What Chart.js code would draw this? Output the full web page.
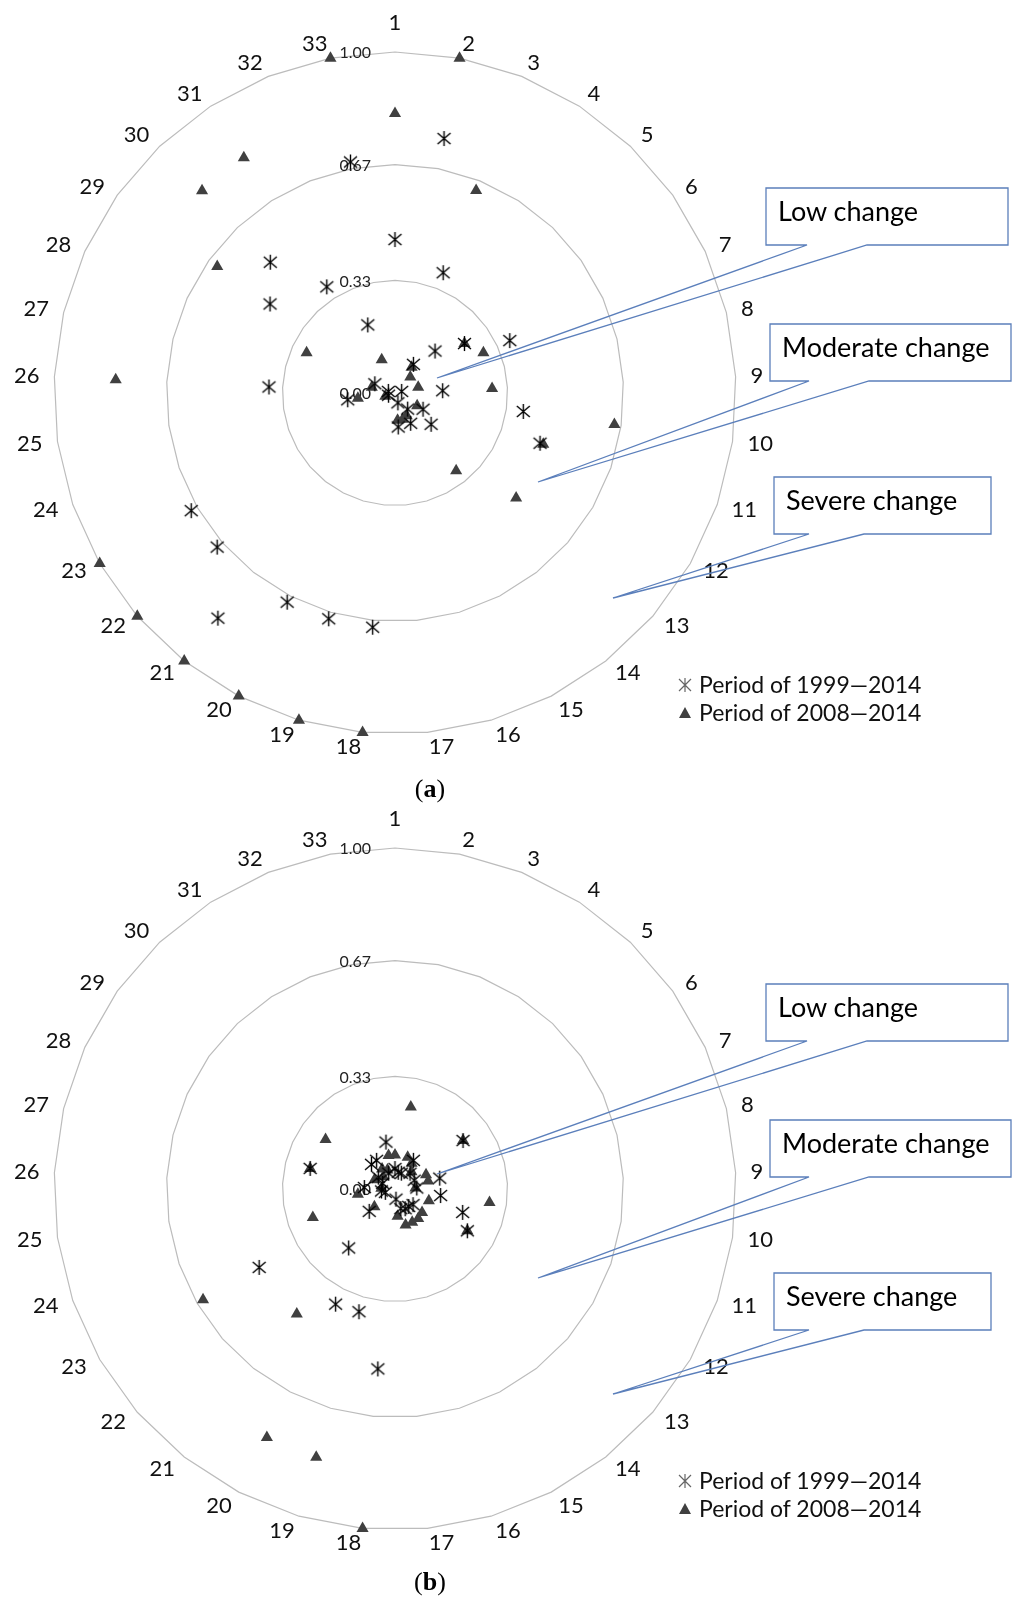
<!DOCTYPE html>
<html>
<head>
<meta charset="utf-8">
<title>Change degree radar</title>
<script src="https://cdn.jsdelivr.net/npm/chart.js@4.4.1/dist/chart.umd.min.js"></script>
<style>
  html, body { margin: 0; background: #fff; }
  #page { position: relative; width: 1024px; height: 1609px; overflow: hidden; }
  #page canvas { position: absolute; }
  #overlay { position: absolute; left: 0; top: 0; }
  .cap { position: absolute; width: 80px; line-height: 30px; text-align: center;
         font-family: "Liberation Serif", serif; font-size: 26px; color: #000; }
</style>
</head>
<body>
<div id="page">
  <canvas id="chartA" width="760" height="760" style="left:15px;top:13px"></canvas>
  <canvas id="chartB" width="760" height="760" style="left:15px;top:809px"></canvas>
  <svg id="overlay" width="1024" height="1609"></svg>
  <div class="cap" style="left:390px;top:774px">(<b>a</b>)</div>
  <div class="cap" style="left:390px;top:1567px">(<b>b</b>)</div>
</div>
<script>
// spoke labels (33 units) and ring values
const units = ["1", "2", "3", "4", "5", "6", "7", "8", "9", "10", "11", "12", "13", "14", "15", "16", "17",
  "18", "19", "20", "21", "22", "23", "24", "25", "26", "27", "28", "29", "30", "31", "32", "33"];
const ringTicks = [0, 0.33, 0.67, 1.0];
const seriesNames = ["Period of 1999\u20142014", "Period of 2008\u20142014"];
const calloutNames = ["Low change", "Moderate change", "Severe change"];

// (a)
const longA = [0.45, 0.76, 0.38, 0.10, 0.17, 0.25, 0.37, 0.02, 0.14, 0.38, 0.45, 0.095, 0.14, 0.06, 0.10, 0.03, 0.10,
  0.69, 0.69, 0.69, 0.84, 0.69, 0.69, 0.02, 0.14, 0.37, 0.02, 0.065, 0.45, 0.53, 0.37, 0.215, 0.69];
const shortA = [0.82, 1.0, 0.64, 0.09, 0.065, 0.25, 0.285, 0.07, 0.285, 0.65, 0.46, 0.075, 0.47, 0.29, 0.075, 0.08, 0.08,
  1.0, 1.0, 1.0, 1.0, 1.0, 1.0, 0.03, 0.11, 0.82, 0.07, 0.285, 0.64, 0.82, 0.82, 0.105, 1.0];

// (b)
const longB = [0.06, 0.05, 0.05, 0.10, 0.064, 0.245, 0.062, 0.135, 0.064, 0.135, 0.21, 0.245, 0.07, 0.065, 0.065, 0.06, 0.03,
  0.53, 0.375, 0.38, 0.22, 0.10, 0.46, 0.03, 0.04, 0.09, 0.256, 0.04, 0.06, 0.10, 0.10, 0.05, 0.14];
const shortB = [0.10, 0.245, 0.10, 0.09, 0.07, 0.245, 0.10, 0.10, 0.06, 0.28, 0.105, 0.245, 0.105, 0.11, 0.11, 0.11, 0.08,
  1.0, 0.82, 0.82, 0.466, 0.08, 0.65, 0.255, 0.11, 0.04, 0.256, 0.066, 0.25, 0.05, 0.07, 0.06, 0.10];

// asterisk marker like the Excel one (vertical bar + X)
const starMarker = document.createElement("canvas");
starMarker.width = 17;
starMarker.height = 17;
const sc = starMarker.getContext("2d");
sc.strokeStyle = "#000";
sc.lineWidth = 1.4;
sc.beginPath();
sc.moveTo(8.5, 1); sc.lineTo(8.5, 16);
sc.moveTo(2, 3); sc.lineTo(15, 14);
sc.moveTo(15, 3); sc.lineTo(2, 14);
sc.stroke();

// spoke labels and value labels are drawn from the scale, Excel style:
// labels vertically centred, pushed sideways away from the axis
const radarText = {
  id: "radarText",
  beforeDatasetsDraw(chart) {
    const s = chart.scales.r;
    const ctx = chart.ctx;
    ctx.save();

    ctx.font = "16px Lato";
    ctx.fillStyle = "#222";
    ctx.textAlign = "right";
    ctx.textBaseline = "middle";
    s.ticks.forEach((t) => {
      const d = s.getDistanceFromCenterForValue(t.value);
      ctx.fillText(t.value.toFixed(2), s.xCenter - 24, s.yCenter - d + 1);
    });

    ctx.font = "22px Lato";
    ctx.fillStyle = "#111";
    units.forEach((u, i) => {
      const p = s.getPointPosition(i, s.drawingArea + 15);
      const dx = p.x - s.xCenter;
      if (Math.abs(dx) < 1) {
        ctx.textAlign = "center";
        ctx.textBaseline = "alphabetic";
        ctx.fillText(u, p.x, p.y - 7);
      } else {
        ctx.textAlign = dx > 0 ? "left" : "right";
        ctx.textBaseline = "middle";
        ctx.fillText(u, p.x, p.y);
      }
    });
    ctx.restore();
  },
};

function makeChart(id, longData, shortData) {
  return new Chart(document.getElementById(id), {
    type: "radar",
    data: {
      labels: units,
      datasets: [
        {
          label: seriesNames[0],
          data: longData,
          showLine: false,
          fill: false,
          clip: false,
          pointStyle: starMarker,
          pointRadius: 8,
          pointHoverRadius: 8,
        },
        {
          label: seriesNames[1],
          data: shortData,
          showLine: false,
          fill: false,
          clip: false,
          pointStyle: "triangle",
          pointRadius: 7,
          pointHoverRadius: 7,
          pointBackgroundColor: "#404040",
          pointBorderColor: "#404040",
          pointBorderWidth: 0,
        },
      ],
    },
    options: {
      responsive: false,
      animation: false,
      layout: { padding: 39 },
      plugins: { legend: { display: false }, tooltip: { enabled: false } },
      scales: {
        r: {
          min: 0,
          max: 1,
          afterBuildTicks: (scale) => {
            scale.ticks = ringTicks.map((v) => ({ value: v }));
          },
          ticks: { display: false },
          grid: { color: "#bcbcbc", lineWidth: 1.2 },
          angleLines: { display: false },
          pointLabels: { display: false },
        },
      },
    },
    plugins: [radarText],
  });
}

makeChart("chartA", longA, shortA);
makeChart("chartB", longB, shortB);

// callouts and legend, placed relative to each chart's centre
const svg = document.getElementById("overlay");
const NS = "http://www.w3.org/2000/svg";

function add(tag, attrs, text) {
  const el = document.createElementNS(NS, tag);
  for (const k in attrs) el.setAttribute(k, attrs[k]);
  if (text) el.textContent = text;
  svg.appendChild(el);
  return el;
}

function callout(cy, box, text) {
  const [x1, y1, x2, y2, b1, b2, tx, ty] = box;
  const d = `M${x1} ${cy + y1} L${x2} ${cy + y1} L${x2} ${cy + y2} L${b2} ${cy + y2} L${tx} ${cy + ty} ` +
    `L${b1} ${cy + y2} L${x1} ${cy + y2} Z`;
  add("path", { d: d, fill: "none", stroke: "#5b7fbb", "stroke-width": 1.3 });
  add("text", { x: x1 + 12, y: cy + y1 + 33, "font-family": "Lato", "font-size": 27, fill: "#000" }, text);
}

function legend(cy) {
  const sy = cy + 292;
  add("path", { d: `M685 ${sy - 7} L685 ${sy + 7} M679 ${sy - 6} L691 ${sy + 6} M691 ${sy - 6} L679 ${sy + 6}`,
    stroke: "#666", "stroke-width": 1.2, fill: "none" });
  add("text", { x: 699, y: sy + 8, "font-family": "Lato", "font-size": 23, fill: "#111" }, seriesNames[0]);
  const ty = cy + 320;
  add("path", { d: `M685 ${ty - 6} L691 ${ty + 5} L679 ${ty + 5} Z`, fill: "#404040" });
  add("text", { x: 699, y: ty + 8, "font-family": "Lato", "font-size": 23, fill: "#111" }, seriesNames[1]);
}

// x1, y1, x2, y2, pointer base left, base right, tip x, tip y (y relative to centre)
const boxes = [
  [766, -205, 1008, -148, 807, 867, 437, -15],
  [770, -69, 1011, -12, 809, 869, 538, 89],
  [774, 84, 991, 141, 809, 864, 613, 205],
];

[393, 1189].forEach((cy) => {
  boxes.forEach((b, i) => callout(cy, b, calloutNames[i]));
  legend(cy);
});
</script>
</body>
</html>
